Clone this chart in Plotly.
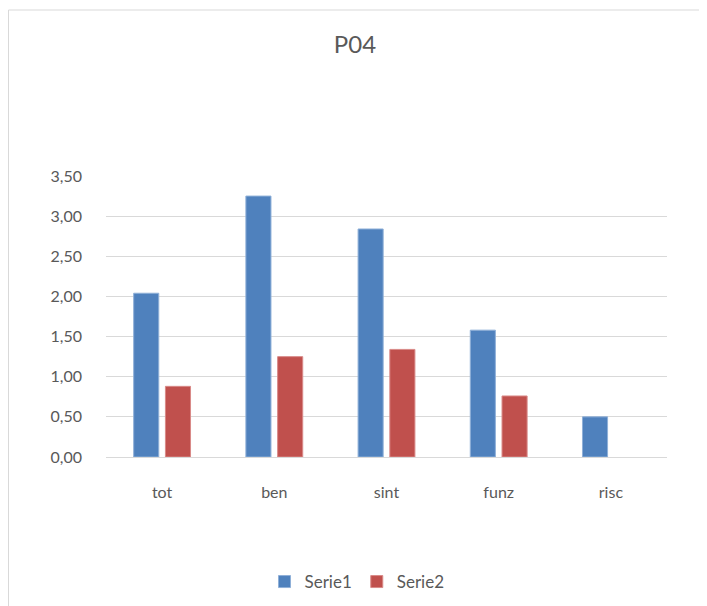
import plotly.graph_objects as go

categories = ["tot", "ben", "sint", "funz", "risc"]
serie1 = [2.04, 3.25, 2.84, 1.58, 0.50]
serie2 = [0.88, 1.25, 1.34, 0.76, None]
y_ticks = [0, 0.5, 1.0, 1.5, 2.0, 2.5, 3.0, 3.5]

OFF = 8  # page body margin
W, H = 707 - OFF, 606 - OFF
L, R, T, B = 106 - OFF, 40, 176 - OFF, 149
pw, ph = W - L - R, H - T - B

def px_x(x):
    return (x - OFF - L) / pw

def px_y(y):
    return (H - B - (y - OFF)) / ph

font_fam = "Lato, Open Sans, sans-serif"
txt = "#595959"

fig = go.Figure()
fig.add_trace(go.Bar(name="Serie1", x=categories, y=serie1,
                     marker=dict(color="#4F81BD", line=dict(color="#8fb0d8", width=1))))
fig.add_trace(go.Bar(name="Serie2", x=categories, y=serie2,
                     marker=dict(color="#C0504D", line=dict(color="#d98a88", width=1))))

fig.update_layout(
    width=W, height=H,
    margin=dict(l=L, r=R, t=T, b=B, pad=0, autoexpand=False),
    paper_bgcolor="white", plot_bgcolor="white",
    separators=",.",
    font=dict(family=font_fam, color=txt, size=16),
    title=dict(text="P04", x=(355 - OFF) / W, xanchor="center", y=1 - (45 - OFF) / H, yanchor="middle",
               font=dict(size=24, color=txt, family=font_fam)),
    barmode="group", bargap=0.434, bargroupgap=0.21,
    showlegend=True,
    legend=dict(orientation="h", x=px_x(357), xanchor="center", y=px_y(582), yanchor="middle",
                font=dict(size=17, color=txt), itemwidth=30, traceorder="normal"),
    xaxis=dict(showgrid=False, showline=True, linecolor="#d9d9d9", linewidth=1,
               ticks="", ticklabelstandoff=21, tickfont=dict(size=16, color=txt)),
    yaxis=dict(range=[0, 3.5], tickvals=y_ticks, tickformat=".2f", showgrid=True,
               gridcolor="#d9d9d9", gridwidth=1, zeroline=False, showline=False,
               ticks="", ticklabelstandoff=23, tickfont=dict(size=16, color=txt)),
    shapes=[dict(type="rect", xref="paper", yref="paper",
                 x0=px_x(OFF + 0.5), x1=px_x(715), y0=px_y(620), y1=px_y(10),
                 line=dict(color="#d9d9d9", width=1), fillcolor="rgba(0,0,0,0)", layer="below")],
)

fig.write_html("out.html")
